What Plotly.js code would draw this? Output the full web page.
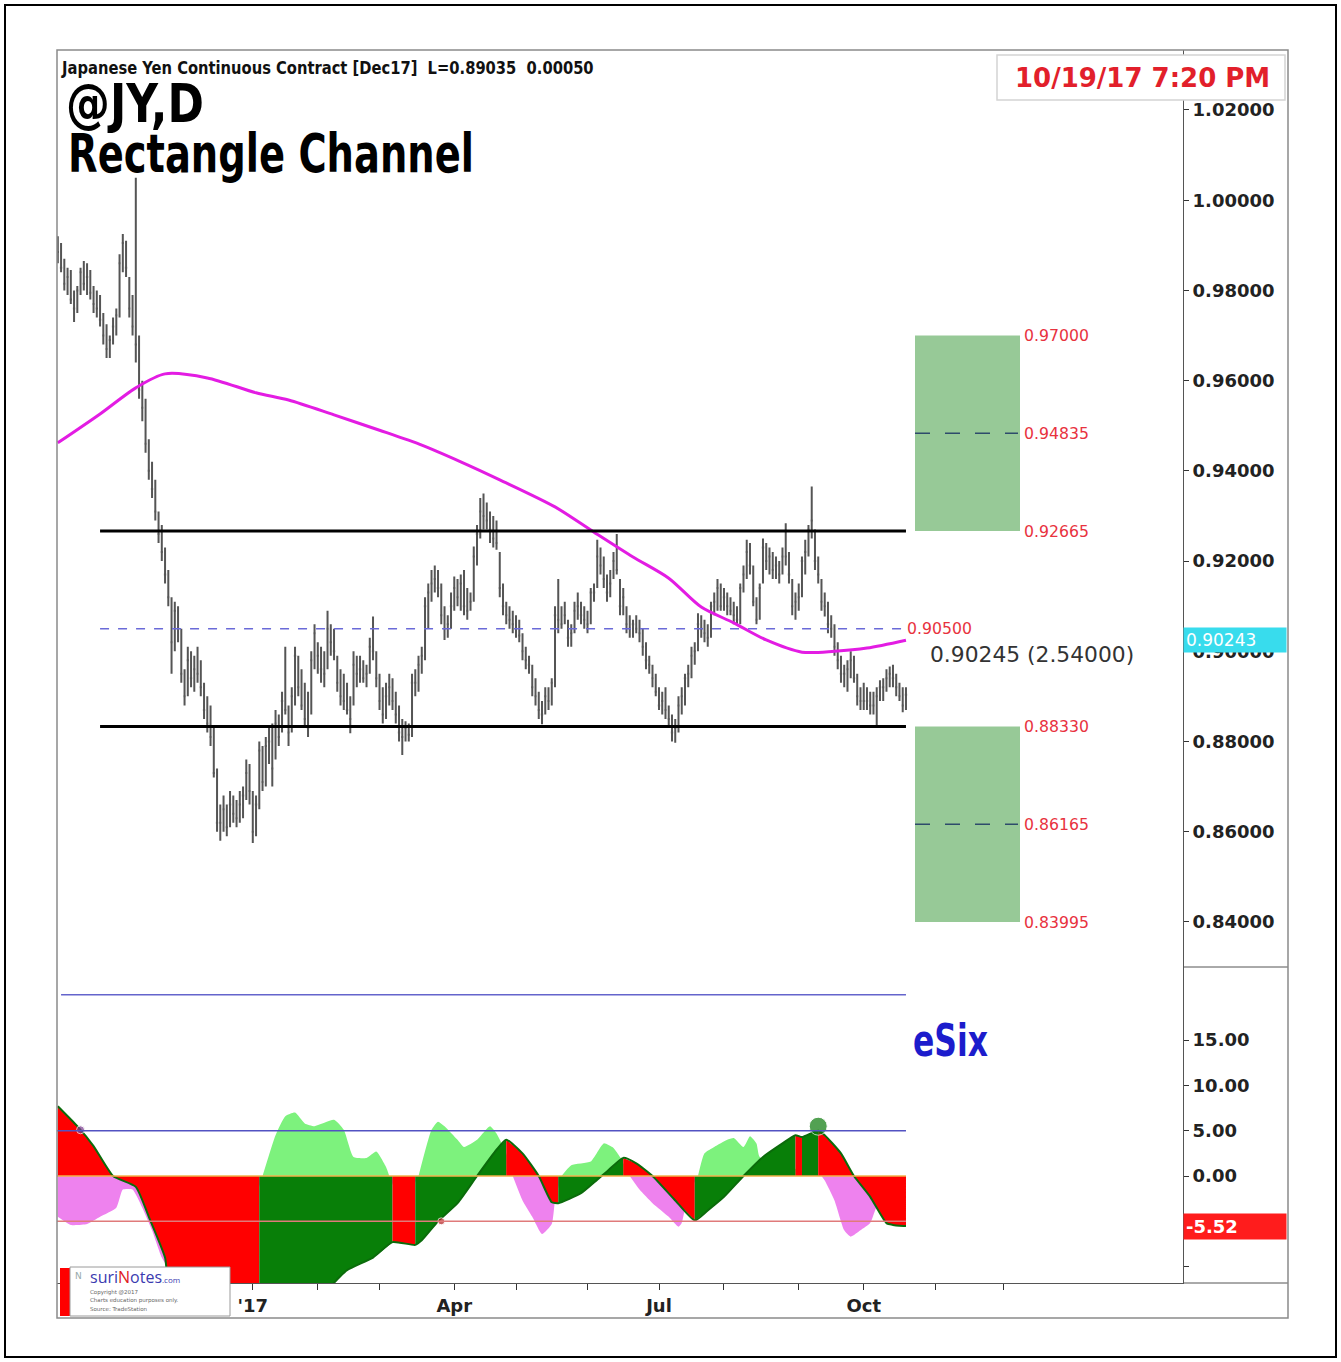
<!DOCTYPE html>
<html><head><meta charset="utf-8">
<script src="https://cdn.plot.ly/plotly-3.0.1.min.js"></script>
<style>html,body{margin:0;padding:0;background:#fff}#chart{width:1341px;height:1362px}</style>
</head><body><div id="chart"></div>
<script>
// ---------------- DATA ----------------
// Daily bars (HLC) from 2016-10-06 to 2017-10-19, one value per trading day
const firstBarDate = '2016-10-06';
const holidays = ['2016-11-24','2016-12-26','2017-01-02','2017-01-16','2017-02-20','2017-04-14','2017-05-29','2017-07-04','2017-09-04','2017-11-23','2017-12-25','2018-01-01','2018-01-15','2018-02-19'];

const high = [
 .9920,.9905,.9870,.9850,.9845,.9800,.9810,.9850,.9865,.9860,.9845,.9810,.9800,.9790,.9750,.9725,.9700,.9740,
 .9760,.9880,.9925,.9910,.9830,.9790,1.0050,.9700,.9600,.9560,.9470,.9420,.9380,.9310,.9280,.9230,.9180,.9120,.9110,.9100,.9050,
 .8960,.9010,.9000,.8990,.9010,.8980,.8930,.8900,.8880,.8830,.8740,.8660,.8680,.8660,.8690,.8680,.8670,.8690,.8700,.8760,.8750,
 .8690,.8680,.8800,.8790,.8810,.8830,.8840,.8870,.8860,.8910,.9010,.8880,.8920,.9010,.8990,.8960,.8930,.8910,.9000,.9060,
 .9020,.9010,.9000,.9090,.9060,.9050,.8990,.8960,.8950,.8930,.8900,.9000,.8990,.8990,.8980,.8970,.9030,.9077,.9000,
 .8950,.8920,.8930,.8950,.8940,.8910,.8880,.8850,.8845,.8840,.8950,.8960,.8990,.9010,.9120,.9150,.9180,.9190,.9180,.9150,.9100,.9080,.9130,
 .9166,.9160,.9170,.9180,.9140,.9130,.9232,.9280,.9340,.9350,.9330,.9310,.9300,.9290,.9220,.9150,.9110,.9100,.9090,
 .9080,.9070,.9040,.9010,.8990,.8970,.8940,.8910,.8890,.8920,.8920,.8940,.9100,.9160,.9100,.9110,.9070,.9060,.9110,.9130,.9110,.9100,
 .9090,.9140,.9150,.9247,.9230,.9210,.9170,.9180,.9220,.9260,.9160,.9140,.9100,.9080,.9070,.9080,.9070,.9050,.9020,.8990,.8970,.8950,
 .8920,.8910,.8920,.8880,.8860,.8850,.8900,.8920,.8950,.8970,.9010,.9020,.9084,.9080,.9070,.9060,.9110,.9130,.9160,.9150,
 .9140,.9130,.9120,.9110,.9100,.9150,.9190,.9247,.9240,.9190,.9120,.9150,.9250,.9240,.9230,.9220,.9210,.9200,.9230,.9284,.9220,.9160,.9130,
 .9150,.9210,.9247,.9280,.9365,.9270,.9210,.9160,.9130,.9110,.9080,.9060,.9020,.8990,.8970,.8980,.9000,.8990,.8950,.8920,
 .8930,.8920,.8910,.8910,.8920,.8936,.8940,.8960,.8966,.8970,.8950,.8930,.8920,.8920
];
const low = [
 .9860,.9840,.9800,.9790,.9770,.9730,.9750,.9790,.9800,.9790,.9780,.9750,.9740,.9720,.9680,.9650,.9650,.9680,
 .9700,.9740,.9840,.9830,.9740,.9700,.9640,.9560,.9510,.9440,.9380,.9340,.9290,.9240,.9200,.9150,.9100,.8950,.9000,.9020,.8930,
 .8880,.8900,.8920,.8910,.8930,.8900,.8850,.8820,.8790,.8720,.8600,.8580,.8600,.8590,.8610,.8620,.8610,.8620,.8630,.8670,.8660,
 .8575,.8590,.8650,.8690,.8700,.8750,.8700,.8760,.8790,.8820,.8860,.8790,.8820,.8880,.8900,.8870,.8830,.8810,.8860,.8960,
 .8950,.8930,.8920,.8960,.8990,.8980,.8910,.8880,.8870,.8860,.8818,.8880,.8920,.8930,.8930,.8920,.8950,.8980,.8920,
 .8870,.8840,.8850,.8880,.8870,.8840,.8800,.8770,.8800,.8800,.8810,.8900,.8910,.8950,.8980,.9050,.9110,.9130,.9120,.9060,.9025,.9030,.9050,
 .9090,.9100,.9090,.9080,.9070,.9090,.9110,.9190,.9250,.9270,.9270,.9240,.9230,.9225,.9120,.9080,.9060,.9050,.9040,
 .9030,.9020,.8980,.8960,.8950,.8900,.8880,.8850,.8838,.8860,.8870,.8880,.8920,.9040,.9050,.9060,.9010,.9010,.9040,.9070,.9060,.9050,
 .9040,.9060,.9110,.9140,.9170,.9140,.9110,.9120,.9160,.9170,.9080,.9080,.9040,.9030,.9030,.9040,.9020,.8990,.8960,.8950,.8920,.8900,
 .8870,.8860,.8850,.8830,.8800,.8797,.8820,.8860,.8880,.8920,.8940,.8970,.9000,.9030,.9020,.9010,.9030,.9080,.9090,.9090,
 .9090,.9080,.9080,.9060,.9060,.9060,.9130,.9160,.9170,.9100,.9060,.9070,.9150,.9180,.9170,.9160,.9160,.9150,.9170,.9190,.9150,.9080,.9070,
 .9090,.9120,.9170,.9210,.9250,.9180,.9150,.9090,.9077,.9040,.9030,.8990,.8960,.8930,.8920,.8910,.8940,.8930,.8880,.8870,
 .8870,.8870,.8860,.8860,.8833,.8890,.8890,.8910,.8920,.8920,.8900,.8890,.8865,.8870
];
const close = [
 .9885,.9850,.9815,.9830,.9780,.9760,.9800,.9840,.9815,.9830,.9795,.9770,.9760,.9735,.9700,.9670,.9690,.9720,
 .9745,.9860,.9905,.9850,.9760,.9720,.9680,.9580,.9540,.9460,.9400,.9360,.9310,.9260,.9220,.9170,.9120,.9020,.9090,.9050,.8950,
 .8900,.8980,.8940,.8960,.8950,.8920,.8870,.8840,.8810,.8730,.8620,.8620,.8650,.8610,.8660,.8640,.8630,.8660,.8680,.8730,.8690,
 .8600,.8660,.8780,.8710,.8790,.8800,.8740,.8840,.8810,.8890,.8870,.8820,.8900,.8990,.8920,.8880,.8850,.8830,.8980,.9040,
 .8990,.8960,.8950,.9050,.9020,.9000,.8930,.8900,.8890,.8870,.8850,.8970,.8950,.8960,.8940,.8950,.9010,.9000,.8940,
 .8890,.8860,.8900,.8920,.8890,.8860,.8820,.8810,.8830,.8815,.8930,.8930,.8970,.8990,.9100,.9130,.9150,.9160,.9140,.9080,.9050,.9060,.9100,
 .9140,.9120,.9150,.9100,.9090,.9110,.9210,.9260,.9310,.9300,.9290,.9270,.9250,.9240,.9140,.9100,.9080,.9070,.9060,
 .9050,.9035,.9000,.8980,.8970,.8920,.8900,.8870,.8860,.8900,.8890,.8930,.9080,.9070,.9060,.9080,.9030,.9040,.9090,.9100,.9080,.9070,
 .9060,.9130,.9130,.9210,.9190,.9160,.9130,.9150,.9200,.9180,.9100,.9120,.9060,.9050,.9060,.9050,.9040,.9010,.8980,.8970,.8940,.8910,
 .8880,.8890,.8870,.8850,.8820,.8830,.8880,.8900,.8940,.8950,.8990,.9000,.9060,.9050,.9040,.9030,.9100,.9110,.9140,.9100,
 .9120,.9100,.9090,.9080,.9070,.9140,.9170,.9220,.9190,.9110,.9070,.9140,.9230,.9200,.9210,.9180,.9190,.9170,.9210,.9210,.9170,.9100,.9110,
 .9120,.9200,.9220,.9270,.9290,.9200,.9170,.9110,.9100,.9060,.9050,.9010,.8980,.8950,.8950,.8960,.8980,.8940,.8900,.8890,
 .8890,.8890,.8880,.8880,.8900,.8920,.8920,.8940,.8950,.8940,.8920,.8900,.8880,.89035
];

// Moving average (magenta line) read at points along its path
const maDates = ['2016-10-06','2016-10-25','2016-11-09','2016-11-22','2016-12-12','2017-01-04','2017-01-19','2017-02-08','2017-03-01','2017-03-20','2017-04-05','2017-04-24','2017-05-17','2017-06-05','2017-06-21','2017-07-07','2017-07-21','2017-08-04','2017-08-18','2017-09-05','2017-09-19','2017-10-03','2017-10-19'];
const maValues = [0.9462,0.9526,0.9584,0.9615,0.9606,0.9573,0.9557,0.9524,0.9490,0.9457,0.9420,0.9380,0.9320,0.9264,0.9209,0.9162,0.9098,0.9063,0.9025,0.8998,0.9000,0.9007,0.90245];

// eSix oscillator (red/green filled line)
const oscDates = ['2016-10-06','2016-10-14','2016-10-21','2016-10-31','2016-11-09','2016-11-15','2016-11-22','2016-11-23','2016-12-01','2016-12-15',
 '2017-01-05','2017-01-19','2017-02-01','2017-02-08','2017-02-14','2017-02-27','2017-03-07','2017-03-16','2017-03-20','2017-03-27',
 '2017-04-04','2017-04-12','2017-04-21','2017-04-26','2017-05-03','2017-05-10','2017-05-16','2017-05-18','2017-05-30','2017-06-06',
 '2017-06-09','2017-06-16','2017-06-22','2017-06-29','2017-07-11','2017-07-19','2017-07-25','2017-08-01','2017-08-09','2017-08-17',
 '2017-08-25','2017-08-31','2017-09-05','2017-09-12','2017-09-14','2017-09-21','2017-09-27','2017-10-04','2017-10-11','2017-10-13',
 '2017-10-17','2017-10-19'];
const oscValues = [7.7,5.5,3.3,0,-1.2,-4.5,-9,-11.8,-15,-19,
 -20.5,-19,-14.5,-11.8,-10.4,-9,-7.3,-7.6,-7.1,-5,
 -3,0,2.9,4.0,2.5,0,-2.9,-3.0,-1.9,-0.4,
 0.5,2.0,1.4,0,-2.7,-4.9,-3.8,-2.3,0,2.1,
 3.6,4.5,4.3,5.0,4.5,2.5,0,-2.3,-5.2,-5.4,
 -5.5,-5.52];

// Histogram series (light green above zero, violet below)
const histDates = ['2016-10-06','2016-10-12','2016-10-19','2016-10-25','2016-11-01','2016-11-03','2016-11-08','2016-11-11','2016-11-16','2016-11-21',
 '2016-11-23','2016-12-01','2016-12-15','2017-01-03','2017-01-06','2017-01-12','2017-01-18','2017-01-23','2017-01-26','2017-01-31',
 '2017-02-08','2017-02-13','2017-02-16','2017-02-23','2017-02-28','2017-03-03','2017-03-06','2017-03-10','2017-03-17','2017-03-23',
 '2017-03-27','2017-03-29','2017-04-04','2017-04-06','2017-04-12','2017-04-19','2017-04-21','2017-04-26','2017-04-28','2017-05-03',
 '2017-05-08','2017-05-11','2017-05-16','2017-05-17','2017-05-19','2017-05-24','2017-06-02','2017-06-08','2017-06-13','2017-06-15',
 '2017-06-20','2017-06-23','2017-06-29','2017-07-07','2017-07-12','2017-07-13','2017-07-17','2017-07-20','2017-07-24','2017-07-27',
 '2017-08-02','2017-08-04','2017-08-09','2017-08-11','2017-08-15','2017-08-16','2017-08-29','2017-09-13','2017-09-14','2017-09-19',
 '2017-09-22','2017-09-26','2017-09-29','2017-10-04','2017-10-06','2017-10-12','2017-10-19'];
const histValues = [-4.5,-5.4,-5.3,-4.5,-3.5,-1.5,-1.5,-3.5,-6,-9,
 -10,-9,-7,-3,0,4.5,6.6,7.0,5.8,5.5,
 6.2,5.1,2.1,2.0,2.7,1.0,0,-3,0,5.1,
 6.0,5.5,4.0,3.2,4.0,5.5,4.7,2.5,0,-2.7,
 -4.5,-6.4,-5.3,-2.7,0,1.2,1.6,3.6,3.1,2.1,
 0,-1.5,-3,-4.5,-5.6,-5.2,-2,0,2.5,3.2,
 4.0,4.2,3.2,4.4,3.6,2.1,1.0,0,-0.5,-2.7,
 -6,-6.7,-6,-5.2,-3.4,-2,-1];

// Signal dots on the oscillator
const dotDates = ['2016-10-17','2017-03-28','2017-09-12'];
const dotValues = [5.1,-5.0,5.5];

// Levels
const channelTop = 0.92665, channelBottom = 0.8833, midLevel = 0.905;
const targetsUp = [0.97000, 0.94835, 0.92665];
const targetsDown = [0.88330, 0.86165, 0.83995];
const lastMA = 0.90243, lastOsc = -5.52;
const priceTicks = [0.84,0.86,0.88,0.90,0.92,0.94,0.96,0.98,1.00,1.02];
const oscTicks = [-10,0,5,10,15];
const oscTickText = ['','0.00','5.00','10.00','15.00'];
const monthTicks = ['2016-11-01','2016-12-01','2017-01-03','2017-02-01','2017-03-01','2017-04-03','2017-05-01','2017-06-01','2017-07-03','2017-08-01','2017-09-01','2017-10-02','2017-11-01','2017-12-01'];
const monthText = ['','',"'17",'','','Apr','','','Jul','','','Oct','',''];

// ---------------- helpers ----------------
function tradingDays(start, n){
  const out=[]; const d=new Date(start+'T00:00:00Z');
  while(out.length<n){
    const dow=d.getUTCDay(); const s=d.toISOString().slice(0,10);
    if(dow!==0 && dow!==6 && holidays.indexOf(s)<0) out.push(s);
    d.setUTCDate(d.getUTCDate()+1);
  }
  return out;
}
const dates = tradingDays(firstBarDate, close.length);
const lastDate = dates[dates.length-1];

function monotonicRuns(xs, ys){
  const runs=[]; let cur={xs:[xs[0]],ys:[ys[0]],dir:0};
  for(let i=1;i<xs.length;i++){
    const dir = ys[i]>ys[i-1]?1:(ys[i]<ys[i-1]?-1:(cur.dir||-1));
    if(cur.dir!==0 && dir!==cur.dir){ runs.push(cur); cur={xs:[xs[i-1]],ys:[ys[i-1]],dir:dir}; }
    else if(cur.dir===0) cur.dir=dir;
    cur.xs.push(xs[i]); cur.ys.push(ys[i]);
  }
  runs.push(cur); return runs;
}
function signRuns(xs, ys){
  const runs=[]; let cur={xs:[],ys:[],sign:0};
  for(let i=0;i<xs.length;i++){
    const s=Math.sign(ys[i]);
    if(s!==0 && cur.sign!==0 && s!==cur.sign){
      runs.push(cur);
      const lx=cur.xs[cur.xs.length-1], ly=cur.ys[cur.ys.length-1];
      cur={xs: ly===0?[lx]:[], ys: ly===0?[0]:[], sign:s};
    }
    if(cur.sign===0 && s!==0) cur.sign=s;
    cur.xs.push(xs[i]); cur.ys.push(ys[i]);
  }
  runs.push(cur); return runs;
}
// pixel -> paper (layout positions only)
const L0=57, PW=1126, B0=1283, PH=1233;
const PX = px => (px-L0)/PW;
const PY = py => (B0-py)/PH;

// ---------------- traces ----------------
const traces = [];
traces.push({type:'ohlc', x:dates, open:close, high:high, low:low, close:close,
  xaxis:'x', yaxis:'y', hoverinfo:'skip', tickwidth:0.35,
  increasing:{line:{color:'#555555', width:2}}, decreasing:{line:{color:'#555555', width:2}}});
traces.push({type:'scatter', mode:'lines', x:maDates, y:maValues, xaxis:'x', yaxis:'y',
  line:{color:'#e31ce3', width:3, shape:'spline', smoothing:0.8}, hoverinfo:'skip'});

signRuns(histDates, histValues).forEach(r=>{
  traces.push({type:'scatter', mode:'lines', x:r.xs, y:r.ys, xaxis:'x', yaxis:'y2', fill:'tozeroy',
    fillcolor: r.sign>0 ? '#7df27d' : '#ee82ee', line:{width:0, shape:'spline', smoothing:0.5}, hoverinfo:'skip'});
});
monotonicRuns(oscDates, oscValues).forEach(r=>{
  traces.push({type:'scatter', mode:'lines', x:r.xs, y:r.ys, xaxis:'x', yaxis:'y2', fill:'tozeroy',
    fillcolor: r.dir>0 ? '#087f08' : '#ff0000', line:{width:0, shape:'spline', smoothing:0.5}, hoverinfo:'skip'});
});
traces.push({type:'scatter', mode:'lines', x:oscDates, y:oscValues, xaxis:'x', yaxis:'y2',
  line:{color:'#0b6b0b', width:2, shape:'spline', smoothing:0.5}, hoverinfo:'skip'});
traces.push({type:'scatter', mode:'markers', x:dotDates, y:dotValues, xaxis:'x', yaxis:'y2',
  marker:{size:[8,7,18], color:['#7a3a90','#b02020','#0a7a0a']}, hoverinfo:'skip'});

// ---------------- shapes ----------------
const shapes = [];
const hline = (y, yref, color, width, dash, x0, x1) => ({type:'line', xref:'x', yref:yref, x0:x0, x1:x1, y0:y, y1:y, line:{color:color, width:width, dash:dash||'solid'}, layer:'above'});
shapes.push(hline(channelTop,'y','#000',3,'solid','2016-10-25',lastDate));
shapes.push(hline(channelBottom,'y','#000',3,'solid','2016-10-25',lastDate));
shapes.push(hline(midLevel,'y','#6a6ad8',1.5,'dash','2016-10-25',lastDate));
// target boxes
[[targetsUp[2],targetsUp[0],targetsUp[1]],[targetsDown[2],targetsDown[0],targetsDown[1]]].forEach(b=>{
  shapes.push({type:'rect', xref:'paper', yref:'y', x0:PX(915), x1:PX(1020), y0:b[0], y1:b[1], fillcolor:'#97c997', line:{width:0}, layer:'below'});
  shapes.push({type:'line', xref:'paper', yref:'y', x0:PX(915), x1:PX(1018), y0:b[2], y1:b[2], line:{color:'#2e4b6b', width:1.5, dash:'longdash'}});
});
// oscillator levels
shapes.push(hline(20,'y2','#6464cc',1.5,'solid','2016-10-07',lastDate));
shapes.push(hline(5,'y2','#5252c2',1.5,'solid','2016-10-05 18:00',lastDate));
shapes.push(hline(0,'y2','#f2b24a',1.5,'solid','2016-10-05 18:00',lastDate));
shapes.push(hline(-5,'y2','#e07a7a',1.5,'solid','2016-10-05 18:00',lastDate));
// frame pieces
shapes.push({type:'line', xref:'paper', yref:'paper', x0:1, x1:PX(1288), y0:PY(967), y1:PY(967), line:{color:'#555', width:1}});
shapes.push({type:'line', xref:'paper', yref:'paper', x0:1, x1:PX(1288), y0:0, y1:0, line:{color:'#555', width:1}});
shapes.push({type:'rect', xref:'paper', yref:'paper', x0:0, x1:PX(1288), y0:PY(1318), y1:1, line:{color:'#8a8a8a', width:1.5}, fillcolor:'rgba(0,0,0,0)'});
shapes.push({type:'rect', xref:'paper', yref:'paper', x0:PX(5), x1:PX(1336), y0:PY(1357), y1:PY(5), line:{color:'#000', width:2}, fillcolor:'rgba(0,0,0,0)'});
// date box
shapes.push({type:'rect', xref:'paper', yref:'paper', x0:PX(997), x1:PX(1285), y0:PY(100), y1:PY(55), fillcolor:'#fff', line:{color:'#d4d4d4', width:1.5}, layer:'above'});
// logo box
shapes.push({type:'rect', xref:'paper', yref:'paper', x0:PX(60), x1:PX(70), y0:PY(1316), y1:PY(1268), fillcolor:'#ff0000', line:{width:0}, layer:'above'});
shapes.push({type:'rect', xref:'paper', yref:'paper', x0:PX(70), x1:PX(230), y0:PY(1316), y1:PY(1267), fillcolor:'#fff', line:{color:'#9a9a9a', width:1}, layer:'above'});

// ---------------- annotations ----------------
const ann = [];
const fitWidth = {};   // annotation index -> target width (condensed look)
const BOLD = 'DejaVu Sans';
const txt = (t, x, y, o) => Object.assign({text:t, xref:'paper', yref:'paper', x:x, y:y, showarrow:false, xanchor:'left', yanchor:'middle'}, o||{});
fitWidth[ann.length] = 533;
ann.push(txt('Japanese Yen Continuous Contract [Dec17]\u00a0\u00a0L=0.89035\u00a0\u00a00.00050', PX(59), PY(68), {font:{family:BOLD, size:17, color:'#111', weight:'bold'}}));
fitWidth[ann.length] = 138;
ann.push(txt('@JY,D', PX(64), PY(103), {font:{family:BOLD, size:54, color:'#000', weight:'bold'}}));
fitWidth[ann.length] = 406;
ann.push(txt('Rectangle Channel', PX(66), PY(153), {font:{family:BOLD, size:54, color:'#000', weight:'bold'}}));
ann.push(txt('10/19/17 7:20 PM', PX(1142), PY(78), {xanchor:'center', font:{family:'DejaVu Sans', size:26, color:'#e21f2b', weight:'bold'}}));
// box labels
const RED = '#e8323e';
targetsUp.concat(targetsDown).forEach(v=>{
  ann.push({text:v.toFixed(5), xref:'paper', yref:'y', x:PX(1022), y:v, xanchor:'left', yanchor:'middle', showarrow:false, font:{family:'DejaVu Sans', size:15.7, color:RED}});
});
ann.push({text:midLevel.toFixed(5), xref:'paper', yref:'y', x:PX(905), y:midLevel, xanchor:'left', yanchor:'middle', showarrow:false, font:{family:'DejaVu Sans', size:15.7, color:RED}});
ann.push(txt('0.90245 (2.54000)', PX(928), PY(654), {font:{family:'DejaVu Sans', size:21.8, color:'#333'}}));
// axis value flags
ann.push({text:lastMA.toFixed(5), xref:'paper', yref:'y', x:1, y:lastMA, xanchor:'left', yanchor:'middle', showarrow:false, bgcolor:'#38dced', width:98, align:'left', borderpad:2, font:{family:'DejaVu Sans', size:17, color:'#fff'}});
ann.push({text:lastOsc.toFixed(2), xref:'paper', yref:'y2', x:1, y:lastOsc, xanchor:'left', yanchor:'middle', showarrow:false, bgcolor:'#ff1c1c', width:98, align:'left', borderpad:2, font:{family:'DejaVu Sans', size:18, color:'#fff', weight:'bold'}});
fitWidth[ann.length] = 75;
ann.push(txt('eSix', PX(911), PY(1040), {font:{family:BOLD, size:44, color:'#1c1ccc', weight:'bold'}}));
// logo text
ann.push(txt('N', PX(73), PY(1276), {font:{family:'DejaVu Sans', size:9, color:'#9aa'}}));
ann.push(txt('suri<span style="color:#e02020">N</span>otes<span style="font-size:8px">.com</span>', PX(88), PY(1277), {font:{family:'Open Sans', size:16, color:'#3a3ab0'}}));
ann.push(txt('Copyright @2017', PX(88), PY(1292), {font:{family:'DejaVu Sans', size:5.5, color:'#666'}}));
ann.push(txt('Charts education purposes only.', PX(88), PY(1300.5), {font:{family:'DejaVu Sans', size:5.5, color:'#666'}}));
ann.push(txt('Source: TradeStation', PX(88), PY(1309), {font:{family:'DejaVu Sans', size:5.5, color:'#666'}}));

// ---------------- layout ----------------
const SPLIT = (1283-967)/1233;
const layout = {
  width:1341, height:1362, paper_bgcolor:'#fff', plot_bgcolor:'#fff', showlegend:false,
  margin:{l:57, r:158, t:50, b:79},
  xaxis:{type:'date', anchor:'y2', domain:[0,1], range:['2016-10-05 18:00','2018-02-22 06:00'],
    rangebreaks:[{bounds:['sat','mon']},{values:holidays}],
    tickvals:monthTicks, ticktext:monthText, ticks:'outside', ticklen:6, tickcolor:'#333',
    showline:true, linecolor:'#555', linewidth:1, showgrid:false, zeroline:false, rangeslider:{visible:false},
    tickfont:{family:'DejaVu Sans', size:18, color:'#222', weight:'bold'}},
  yaxis:{domain:[SPLIT,1], range:[0.8300,1.0333], side:'right', anchor:'x', showgrid:false, zeroline:false,
    tickvals:priceTicks, ticktext:priceTicks.map(v=>v.toFixed(5)), ticks:'outside', ticklen:5, tickcolor:'#333',
    showline:true, linecolor:'#555', linewidth:1, tickfont:{family:'DejaVu Sans', size:18, color:'#222', weight:'bold'}},
  yaxis2:{domain:[0,SPLIT], range:[-11.81,23.07], side:'right', anchor:'x', showgrid:false, zeroline:false,
    tickvals:oscTicks, ticktext:oscTickText, ticks:'outside', ticklen:5, tickcolor:'#333',
    showline:true, linecolor:'#555', linewidth:1, tickfont:{family:'DejaVu Sans', size:18, color:'#222', weight:'bold'}},
  shapes:shapes, annotations:ann
};
Plotly.newPlot('chart', traces, layout, {staticPlot:true, displayModeBar:false}).then(()=>{
  // squeeze the heavy title texts horizontally to mimic the condensed face of the original
  document.querySelectorAll('#chart g.annotation').forEach(g=>{
    const i = +g.getAttribute('data-index');
    if(fitWidth[i] === undefined) return;
    const t = g.querySelector('text.annotation-text');
    if(!t) return;
    const bb = t.getBBox();
    const s = fitWidth[i]/bb.width;
    const prev = t.getAttribute('transform') || '';
    t.setAttribute('transform', 'translate('+bb.x+',0) scale('+s+',1) translate('+(-bb.x)+',0) '+prev);
  });
});
</script></body></html>
